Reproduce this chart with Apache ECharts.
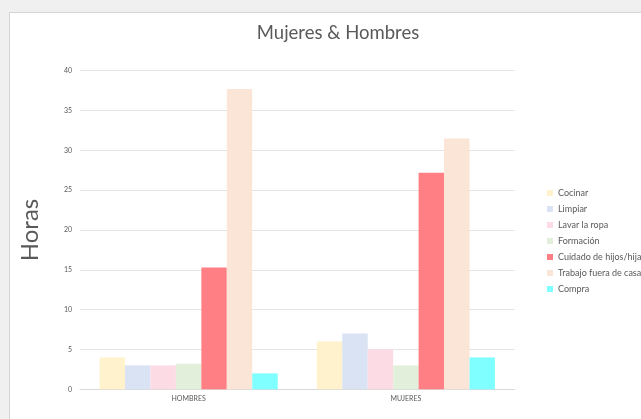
<!DOCTYPE html>
<html>
<head>
<meta charset="utf-8">
<script src="https://cdn.jsdelivr.net/npm/echarts@6/dist/echarts.min.js"></script>
<style>
    html, body { margin: 0; padding: 0; background: #f0f0f0; }
    #panel {
        position: absolute; left: 9px; top: 12px; width: 632px; height: 407px;
        background: #ffffff; border-top: 1px solid #d4d4d4; border-left: 1px solid #d4d4d4;
    }
    #chart { position: absolute; left: 0; top: 0; width: 641px; height: 419px; }
</style>
</head>
<body>
<div id="panel"></div>
<div id="chart"></div>
<script>
var categories = ['HOMBRES', 'MUJERES'];
var seriesNames = ['Cocinar', 'Limpiar', 'Lavar la ropa', 'Formación', 'Cuidado de hijos/hijas', 'Trabajo fuera de casa', 'Compra'];
var cocinar = [4, 6];
var limpiar = [3, 7];
var lavarRopa = [3, 5];
var formacion = [3.2, 3];
var cuidado = [15.3, 27.2];
var trabajo = [37.7, 31.5];
var compra = [2, 4];
var seriesValues = [cocinar, limpiar, lavarRopa, formacion, cuidado, trabajo, compra];
var colors = ['#fff2cc', '#dae3f3', '#fddbe4', '#e2efda', '#ff7f84', '#fbe5d6', '#7fffff'];

var chart = echarts.init(document.getElementById('chart'), null, { renderer: 'canvas' });
var font = 'Lato, "Open Sans", sans-serif';

var option = {
    backgroundColor: 'transparent',
    color: colors,
    animation: false,
    textStyle: { fontFamily: font },
    title: {
        text: 'Mujeres & Hombres',
        left: 333,
        textAlign: 'center',
        top: 19,
        textStyle: { fontSize: 18.5, fontWeight: 'normal', color: '#595959', fontFamily: font }
    },
    legend: {
        orient: 'vertical',
        left: 547,
        top: 188,
        padding: 0,
        itemWidth: 6,
        itemHeight: 6,
        itemGap: 6,
        icon: 'rect',
        data: seriesNames,
        textStyle: { fontSize: 9, color: '#595959', lineHeight: 10 }
    },
    grid: { left: 80, right: 126.5, top: 70.7, bottom: 29.7 },
    xAxis: {
        type: 'category',
        data: categories,
        axisTick: { show: false },
        axisLine: { lineStyle: { color: '#d9d9d9' } },
        axisLabel: { fontSize: 7, color: '#595959', margin: 6 }
    },
    yAxis: {
        type: 'value',
        min: 0,
        max: 40,
        interval: 5,
        name: 'Horas',
        nameLocation: 'middle',
        nameRotate: 90,
        nameGap: 38,
        nameTextStyle: { fontSize: 24, color: '#595959' },
        axisLine: { show: false },
        axisTick: { show: false },
        axisLabel: { fontSize: 7, color: '#595959', margin: 8 },
        splitLine: { lineStyle: { color: '#e4e4e4' } }
    },
    series: seriesNames.map(function (name, i) {
        return {
            name: name,
            type: 'bar',
            data: seriesValues[i],
            barGap: '0%',
            barCategoryGap: '18%'
        };
    })
};
chart.setOption(option);
</script>
</body>
</html>
